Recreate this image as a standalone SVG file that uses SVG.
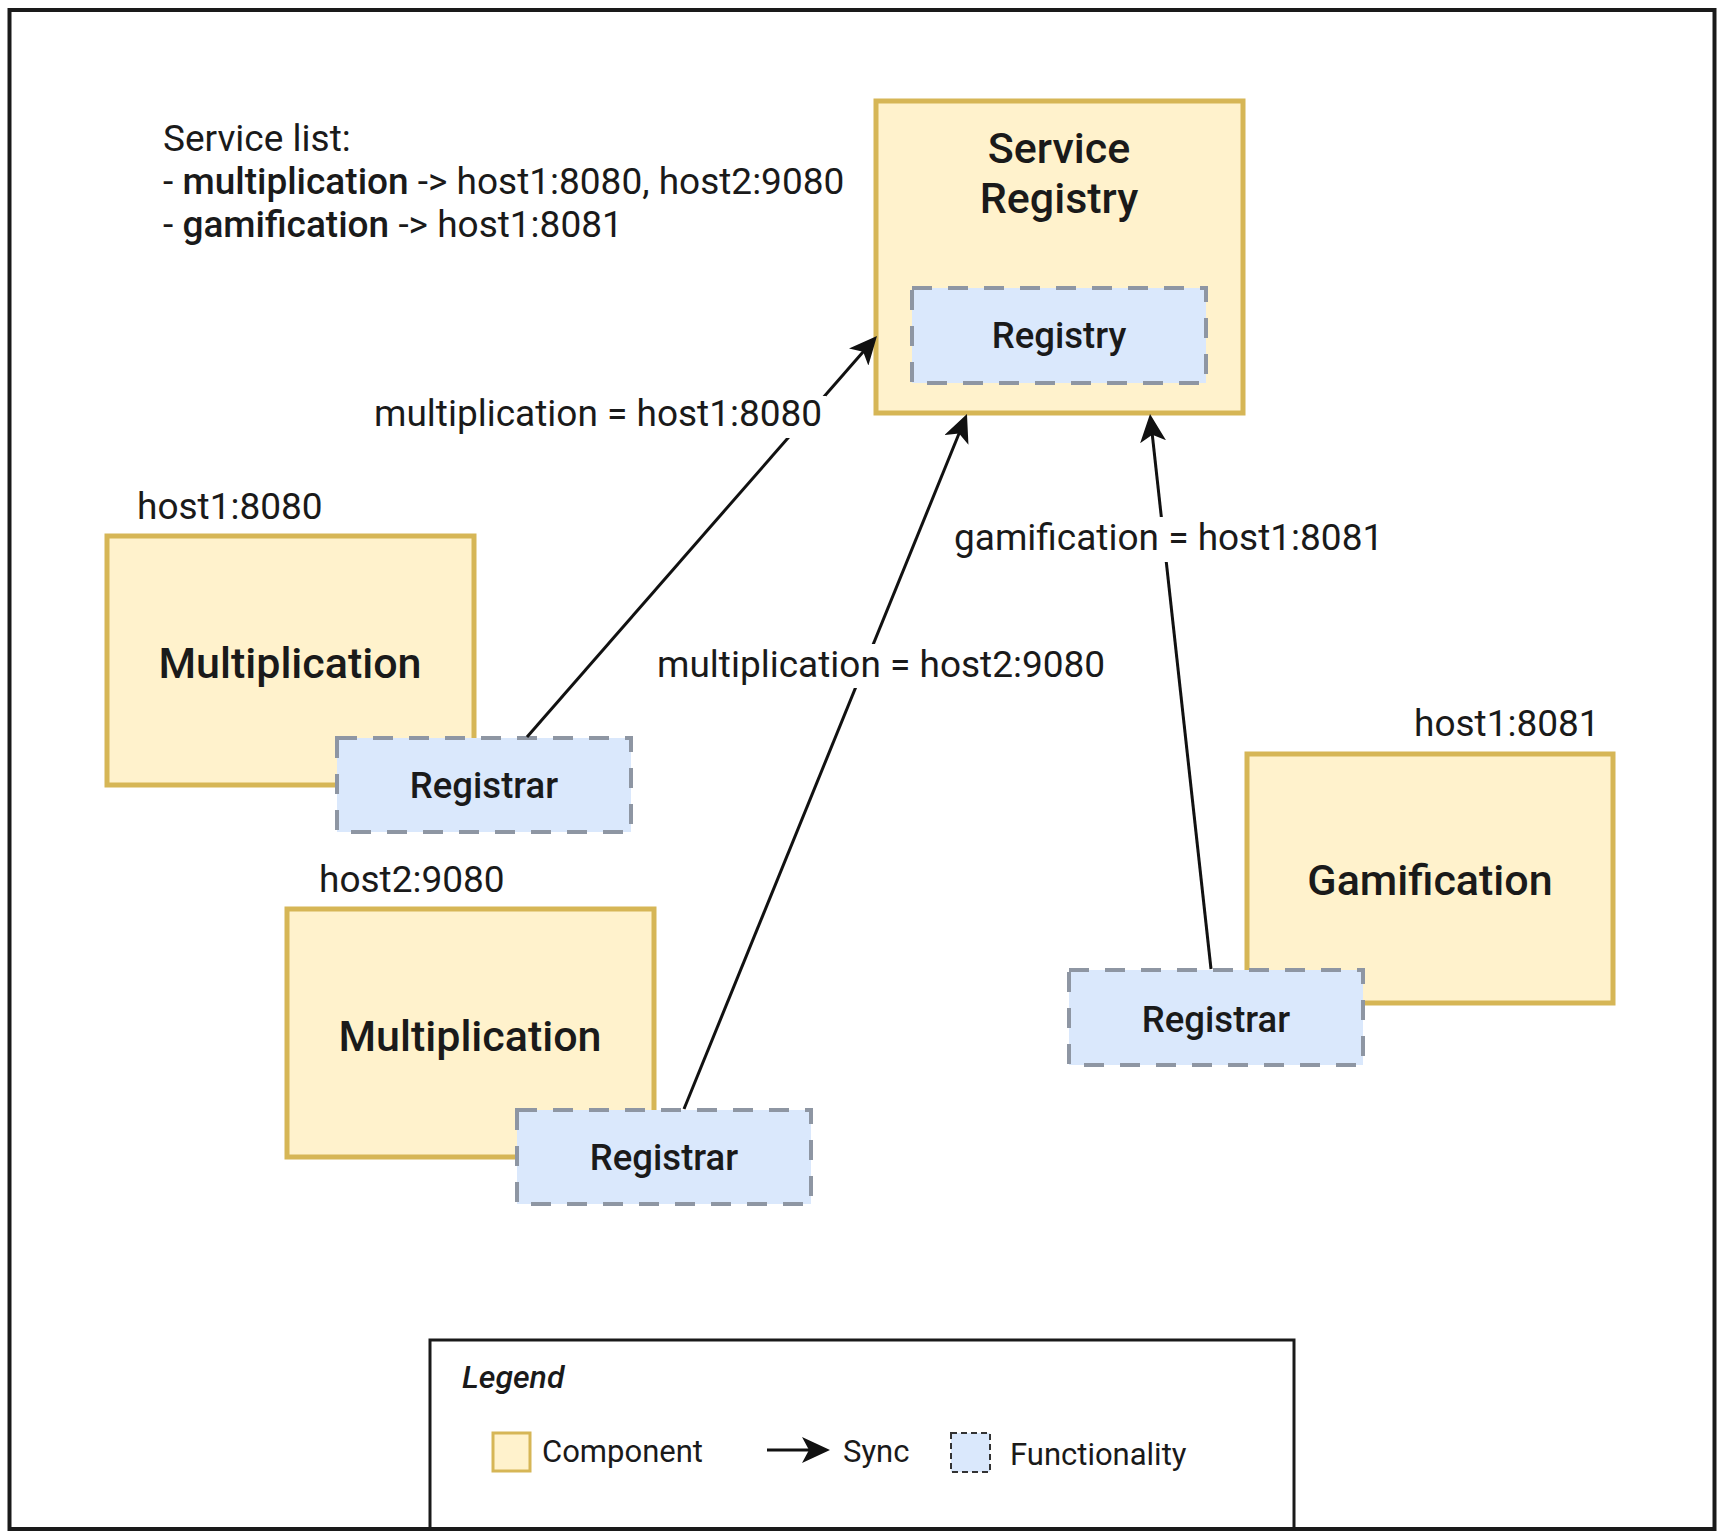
<svg xmlns="http://www.w3.org/2000/svg" width="1725" height="1539" viewBox="0 0 1725 1539">
<style>
text{font-family:Roboto,"Liberation Sans",sans-serif;fill:#1a1a1a}
.comp{fill:#fff2cc;stroke:#d6b656;stroke-width:5}
.func{fill:#dae8fc;stroke:#8e96a3;stroke-width:4;stroke-dasharray:20 16}
.title{font-size:43px;font-weight:500;text-anchor:middle}
.ftext{font-size:36.5px;font-weight:500;text-anchor:middle}
.lbl{font-size:37px}
.edge{stroke:#111;stroke-width:3;fill:none}
.lblbg{fill:#fff}
.leg{font-size:31px}
</style>
<defs>
<marker id="arrow" viewBox="0 0 28 26" markerWidth="28" markerHeight="26" refX="18" refY="13" orient="auto" markerUnits="userSpaceOnUse">
<path d="M0,0 L28,13 L0,26 L7,13 Z" fill="#111"/>
</marker>
</defs>
<rect x="0" y="0" width="1725" height="1539" fill="#fff"/>
<rect id="frame" x="9.5" y="10" width="1705" height="1519" fill="none" stroke="#1a1a1a" stroke-width="4"/>

<g id="service-list">
<text class="lbl" x="163" y="151">Service list:</text>
<text class="lbl" x="163" y="194">- <tspan font-weight="500">multiplication</tspan> -&gt; host1:8080, host2:9080</text>
<text class="lbl" x="163" y="237">- <tspan font-weight="500">gamification</tspan> -&gt; host1:8081</text>
</g>

<g id="service-registry">
<rect class="comp" x="876" y="101" width="367" height="312"/>
<text class="title" x="1059" y="163">Service</text>
<text class="title" x="1059" y="213">Registry</text>
</g>
<g id="registry">
<rect class="func" x="912" y="288" width="294" height="95"/>
<text class="ftext" x="1059" y="348">Registry</text>
</g>

<g id="multiplication-1">
<text class="lbl" x="137" y="519">host1:8080</text>
<rect class="comp" x="107" y="536" width="367" height="249"/>
<text class="title" x="290" y="678">Multiplication</text>
</g>
<g id="registrar-1">
<rect class="func" x="337" y="738" width="294" height="94"/>
<text class="ftext" x="484" y="798">Registrar</text>
</g>

<g id="multiplication-2">
<text class="lbl" x="319" y="892">host2:9080</text>
<rect class="comp" x="287" y="909" width="367" height="248"/>
<text class="title" x="470" y="1051">Multiplication</text>
</g>
<g id="registrar-2">
<rect class="func" x="517" y="1110" width="294" height="94"/>
<text class="ftext" x="664" y="1170">Registrar</text>
</g>

<g id="gamification">
<text class="lbl" x="1414" y="736">host1:8081</text>
<rect class="comp" x="1247" y="754" width="366" height="249"/>
<text class="title" x="1430" y="895">Gamification</text>
</g>
<g id="registrar-3">
<rect class="func" x="1069" y="970" width="294" height="95"/>
<text class="ftext" x="1216" y="1032">Registrar</text>
</g>

<g id="connectors">
<line class="edge" x1="527" y1="737" x2="870.4" y2="343.5" marker-end="url(#arrow)"/>
<line class="edge" x1="684" y1="1109" x2="963.2" y2="423.3" marker-end="url(#arrow)"/>
<line class="edge" x1="1211" y1="969" x2="1151.1" y2="423.9" marker-end="url(#arrow)"/>
<rect class="lblbg" x="370" y="396" width="456" height="42"/>
<text class="lbl" x="374" y="426">multiplication = host1:8080</text>
<rect class="lblbg" x="654" y="644" width="455" height="44"/>
<text class="lbl" x="657" y="677">multiplication = host2:9080</text>
<rect class="lblbg" x="951" y="517" width="434" height="45"/>
<text class="lbl" x="954" y="550">gamification = host1:8081</text>
</g>

<g id="legend">
<rect x="430" y="1340" width="864" height="189" fill="none" stroke="#1a1a1a" stroke-width="3"/>
<text x="462" y="1388" font-size="32" font-style="italic" font-weight="500">Legend</text>
<rect x="493" y="1433" width="37" height="38" fill="#fff2cc" stroke="#d6b656" stroke-width="3"/>
<text class="leg" x="542" y="1462">Component</text>
<line class="edge" x1="767" y1="1450" x2="820" y2="1450" marker-end="url(#arrow)"/>
<text class="leg" x="843" y="1462">Sync</text>
<rect x="951" y="1433" width="39" height="39" fill="#dae8fc" stroke="#333" stroke-width="2" stroke-dasharray="6 4"/>
<text class="leg" x="1010" y="1465">Functionality</text>
</g>
</svg>
